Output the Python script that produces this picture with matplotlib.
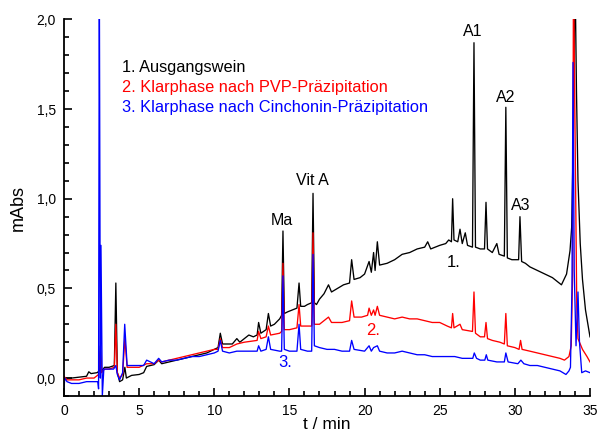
import numpy as np
import matplotlib
matplotlib.use("Agg")
import matplotlib.pyplot as plt
from matplotlib.ticker import MultipleLocator, FuncFormatter

plt.rcParams['font.family'] = ['Liberation Sans', 'DejaVu Sans']

# chromatogram points (t / min, mAbs)
black_pts = [
    (0.0, 0.0), (0.5, 0.0), (1.0, 0.005), (1.5, 0.01), (1.65, 0.035), (1.8, 0.025),
    (2.2, 0.03), (2.35, 0.04), (2.42, 0.18), (2.5, 0.04), (2.7, 0.06), (3.0, 0.06),
    (3.35, 0.07), (3.45, 0.53), (3.55, 0.03), (3.7, -0.02), (3.9, -0.01), (4.05, 0.06),
    (4.15, 0.0), (4.5, 0.015), (5.0, 0.02), (5.3, 0.03), (5.5, 0.065), (6.0, 0.075),
    (6.3, 0.1), (6.5, 0.08), (7.0, 0.09), (7.5, 0.1), (8.0, 0.11), (8.5, 0.12),
    (9.0, 0.13), (9.5, 0.14), (10.0, 0.16), (10.25, 0.17), (10.4, 0.25), (10.55, 0.19),
    (10.8, 0.19), (11.2, 0.19), (11.5, 0.22), (11.7, 0.2), (12.0, 0.22), (12.3, 0.24),
    (12.6, 0.23), (12.85, 0.24), (12.95, 0.31), (13.1, 0.25), (13.45, 0.27), (13.6, 0.36),
    (13.75, 0.29), (14.0, 0.3), (14.35, 0.33), (14.48, 0.35), (14.57, 0.82), (14.66, 0.36),
    (14.9, 0.37), (15.2, 0.38), (15.5, 0.39), (15.64, 0.53), (15.75, 0.4), (16.0, 0.4),
    (16.2, 0.41), (16.48, 0.42), (16.57, 1.03), (16.66, 0.42), (16.8, 0.41), (17.0, 0.44),
    (17.3, 0.47), (17.6, 0.52), (17.8, 0.48), (18.2, 0.5), (18.6, 0.52), (19.0, 0.53),
    (19.14, 0.66), (19.3, 0.55), (19.7, 0.56), (20.0, 0.58), (20.3, 0.65), (20.45, 0.59),
    (20.6, 0.7), (20.7, 0.6), (20.85, 0.76), (21.0, 0.63), (21.5, 0.64), (22.0, 0.66),
    (22.5, 0.69), (23.0, 0.7), (23.5, 0.72), (24.0, 0.73), (24.2, 0.76), (24.4, 0.72),
    (25.0, 0.74), (25.4, 0.75), (25.6, 0.77), (25.78, 0.76), (25.86, 1.0), (25.95, 0.77),
    (26.2, 0.76), (26.35, 0.83), (26.5, 0.75), (26.7, 0.81), (26.85, 0.74), (27.18, 0.73),
    (27.28, 1.87), (27.38, 0.73), (27.7, 0.72), (27.98, 0.72), (28.08, 0.98), (28.18, 0.72),
    (28.5, 0.7), (28.8, 0.75), (28.95, 0.69), (29.3, 0.68), (29.4, 1.51), (29.5, 0.67),
    (29.8, 0.66), (30.25, 0.66), (30.34, 0.9), (30.45, 0.65), (30.7, 0.64), (31.0, 0.62),
    (31.5, 0.6), (32.0, 0.58), (32.5, 0.56), (33.1, 0.52), (33.44, 0.58), (33.67, 0.71),
    (33.78, 0.84), (33.9, 1.4), (34.0, 2.3), (34.1, 1.6), (34.2, 1.1), (34.35, 0.75),
    (34.5, 0.55), (34.7, 0.38), (35.0, 0.23),
]

red_pts = [
    (0.0, 0.01), (0.2, -0.01), (1.0, -0.01), (1.5, 0.0), (2.0, 0.0), (2.3, 0.02),
    (2.42, 0.15), (2.5, 0.03), (2.7, 0.05), (3.0, 0.05), (3.35, 0.06), (3.45, 0.3),
    (3.55, 0.03), (3.7, 0.0), (3.9, 0.02), (4.05, 0.22), (4.2, 0.06), (4.5, 0.06),
    (5.0, 0.06), (5.5, 0.08), (6.0, 0.08), (6.3, 0.1), (6.5, 0.09), (7.0, 0.1),
    (7.5, 0.11), (8.0, 0.12), (8.5, 0.13), (9.0, 0.14), (9.5, 0.15), (10.0, 0.16),
    (10.25, 0.16), (10.4, 0.22), (10.55, 0.17), (11.0, 0.17), (11.5, 0.19), (12.0, 0.2),
    (12.85, 0.21), (12.95, 0.26), (13.1, 0.22), (13.45, 0.23), (13.6, 0.29), (13.75, 0.24),
    (14.35, 0.25), (14.48, 0.26), (14.57, 0.64), (14.66, 0.27), (15.0, 0.27), (15.5, 0.28),
    (15.64, 0.41), (15.75, 0.29), (16.2, 0.29), (16.48, 0.29), (16.57, 0.81), (16.66, 0.3),
    (17.0, 0.3), (17.6, 0.34), (17.8, 0.31), (18.5, 0.31), (19.0, 0.32), (19.14, 0.43),
    (19.3, 0.34), (19.8, 0.34), (20.2, 0.35), (20.3, 0.39), (20.45, 0.35), (20.6, 0.38),
    (20.7, 0.35), (20.85, 0.4), (21.0, 0.35), (21.5, 0.34), (22.0, 0.33), (22.5, 0.34),
    (23.0, 0.33), (23.5, 0.33), (24.0, 0.32), (24.5, 0.31), (25.0, 0.31), (25.5, 0.29),
    (25.78, 0.28), (25.86, 0.36), (25.95, 0.28), (26.35, 0.3), (26.5, 0.27), (27.18, 0.26),
    (27.28, 0.48), (27.38, 0.25), (27.7, 0.23), (27.98, 0.23), (28.08, 0.31), (28.18, 0.22),
    (28.5, 0.21), (29.0, 0.2), (29.3, 0.19), (29.4, 0.36), (29.5, 0.18), (30.0, 0.17),
    (30.28, 0.16), (30.38, 0.21), (30.48, 0.16), (31.0, 0.15), (31.5, 0.14), (32.0, 0.13),
    (32.5, 0.12), (33.0, 0.11), (33.3, 0.1), (33.6, 0.12), (33.75, 0.18), (33.85, 0.6),
    (33.9, 2.3), (34.05, 1.0), (34.12, 0.4), (34.2, 0.22), (34.5, 0.16), (34.8, 0.12),
    (35.0, 0.09),
]

blue_pts = [
    (0.0, -0.06), (0.05, 0.0), (0.2, -0.02), (0.5, -0.03), (1.0, -0.03), (1.5, -0.02),
    (2.0, -0.02), (2.25, -0.02), (2.3, -0.06), (2.35, 2.3), (2.42, 0.0), (2.46, 0.74),
    (2.55, -0.1), (2.65, 0.05), (3.0, 0.05), (3.3, 0.05), (3.45, 0.07), (3.55, 0.02),
    (3.7, -0.01), (3.9, 0.03), (4.04, 0.3), (4.2, 0.07), (4.5, 0.07), (5.0, 0.07),
    (5.3, 0.07), (5.5, 0.1), (6.0, 0.08), (6.3, 0.11), (6.5, 0.09), (7.0, 0.1),
    (7.5, 0.1), (8.0, 0.11), (8.5, 0.12), (9.0, 0.12), (9.5, 0.13), (10.0, 0.14),
    (10.25, 0.15), (10.4, 0.21), (10.55, 0.15), (11.0, 0.14), (11.5, 0.15), (12.0, 0.15),
    (12.85, 0.15), (12.95, 0.18), (13.1, 0.15), (13.45, 0.16), (13.6, 0.23), (13.75, 0.16),
    (14.35, 0.15), (14.48, 0.15), (14.57, 0.57), (14.66, 0.16), (15.0, 0.15), (15.5, 0.15),
    (15.64, 0.3), (15.75, 0.16), (16.2, 0.15), (16.48, 0.15), (16.57, 0.69), (16.66, 0.18),
    (17.0, 0.17), (17.5, 0.16), (18.0, 0.16), (18.5, 0.15), (19.0, 0.15), (19.14, 0.21),
    (19.3, 0.16), (20.0, 0.15), (20.3, 0.18), (20.45, 0.15), (20.6, 0.17), (20.85, 0.18),
    (21.0, 0.15), (21.5, 0.14), (22.0, 0.14), (22.5, 0.15), (23.0, 0.14), (23.5, 0.13),
    (24.0, 0.13), (24.5, 0.12), (25.0, 0.12), (25.5, 0.12), (26.0, 0.12), (26.5, 0.11),
    (27.2, 0.11), (27.3, 0.14), (27.45, 0.11), (27.7, 0.1), (28.0, 0.1), (28.1, 0.13),
    (28.2, 0.1), (28.8, 0.09), (29.3, 0.09), (29.4, 0.14), (29.55, 0.09), (30.2, 0.08),
    (30.4, 0.1), (30.6, 0.08), (31.0, 0.07), (31.5, 0.07), (32.0, 0.06), (32.5, 0.05),
    (33.0, 0.04), (33.4, 0.02), (33.6, 0.04), (33.7, 0.06), (33.8, 0.5), (33.87, 1.76),
    (33.95, 0.6), (34.07, 0.18), (34.2, 0.48), (34.3, 0.2), (34.45, 0.03), (34.7, 0.04),
    (35.0, 0.03),
]

legend_labels = ["1. Ausgangswein",
                 "2. Klarphase nach PVP-Präzipitation",
                 "3. Klarphase nach Cinchonin-Präzipitation"]
colors = ["black", "#ff0000", "#0000ff"]

peak_labels = ["A1", "A2", "A3", "Vit A", "Ma"]
peak_label_pos = [(27.2, 1.93), (29.4, 1.565), (30.4, 0.96), (16.5, 1.10), (14.5, 0.88)]

trace_labels = ["1.", "2.", "3."]
trace_label_pos = [(25.95, 0.645), (20.55, 0.265), (14.7, 0.087)]

fig = plt.figure(figsize=(5.97, 4.34), dpi=100)
ax = fig.add_axes([64 / 597, 1 - 396 / 434, (590 - 64) / 597, (396 - 19.4) / 434])

for pts, c in zip([black_pts, red_pts, blue_pts], colors):
    arr = np.array(pts)
    ax.plot(arr[:, 0], arr[:, 1], color=c, lw=0.95)

ax.set_xlim(0, 35)
ax.set_ylim(-0.1, 2.0)

for s in ["top", "right"]:
    ax.spines[s].set_visible(False)
for s in ["left", "bottom"]:
    ax.spines[s].set_linewidth(1.3)

ax.xaxis.set_major_locator(MultipleLocator(5))
ax.xaxis.set_minor_locator(MultipleLocator(1))
ax.yaxis.set_major_locator(MultipleLocator(0.5))
ax.yaxis.set_minor_locator(MultipleLocator(0.1))
ax.yaxis.set_major_formatter(FuncFormatter(lambda v, p: f"{v:.1f}".replace(".", ",")))
ax.tick_params(which="both", direction="in", width=1.2, labelsize=10)
ax.tick_params(which="major", length=6, pad=6)
ax.tick_params(which="minor", length=3.5)

ax.set_xlabel("t / min", fontsize=12.5, labelpad=-1)
ax.set_ylabel("mAbs", fontsize=13, labelpad=7)

for i, (lab, c) in enumerate(zip(legend_labels, colors)):
    ax.text(3.86, 1.73 - i * 0.112, lab, color=c, fontsize=11.8, ha="left", va="center")

for lab, (x, y) in zip(peak_labels, peak_label_pos):
    ax.text(x, y, lab, fontsize=11.5, ha="center", va="center")

for lab, (x, y), c in zip(trace_labels, trace_label_pos, colors):
    ax.text(x, y, lab, color=c, fontsize=12, ha="center", va="center")

fig.savefig("out.png", dpi=100)
